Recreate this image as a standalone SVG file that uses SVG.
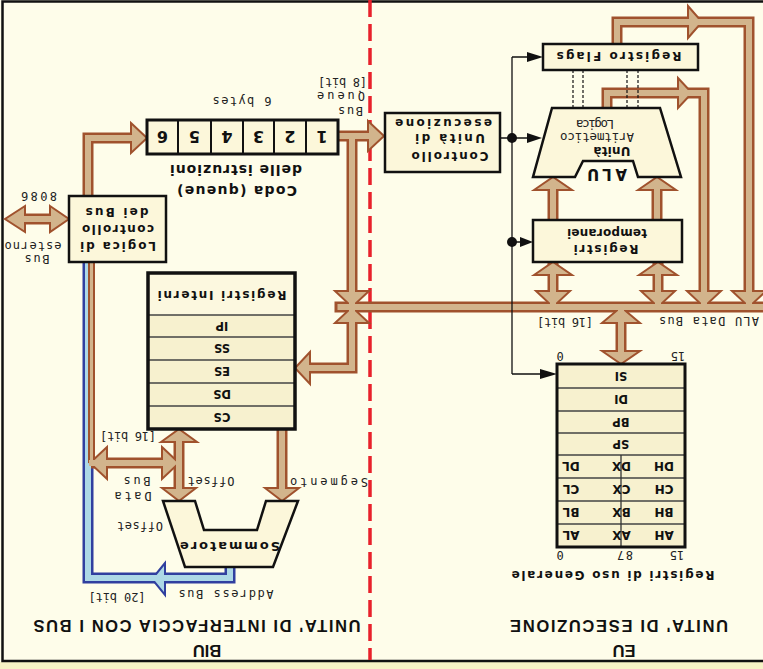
<svg xmlns="http://www.w3.org/2000/svg" width="763" height="669" viewBox="0 0 763 669">
<style>
.t{font-family:"DejaVu Sans Mono","Liberation Mono",monospace;font-size:12px;fill:#222;text-anchor:middle}
.b{font-family:"DejaVu Sans",sans-serif;font-weight:bold;font-size:12px;fill:#111;text-anchor:middle}
.h{font-family:"Liberation Sans",Arial,sans-serif;font-weight:bold;font-size:16.5px;fill:#111;text-anchor:middle}
.box{fill:#fcf7da;stroke:#111;stroke-width:2.5}
.row{fill:#f7f1cf}
.div{stroke:#444;stroke-width:1.5}
.bo{fill:none;stroke:#a0522d;stroke-width:11;stroke-linejoin:miter}
.bi{fill:none;stroke:#d2b48c;stroke-width:6;stroke-linejoin:miter}
.hd{fill:#d2b48c;stroke:#a0522d;stroke-width:2}
.lo{fill:none;stroke:#303f9f;stroke-width:11}
.li{fill:none;stroke:#add8e6;stroke-width:6}
.ln{fill:none;stroke:#111;stroke-width:1.3}
.ah{fill:#111}
.dash{stroke:#111;stroke-width:1.2;stroke-dasharray:3 2}
</style>
<rect x="0" y="0" width="763" height="669" fill="#fefdea"/>
<rect x="0" y="662" width="763" height="7" fill="#f7f3c6"/>
<path d="M763,1.5 H2.5 V661 H763" fill="none" stroke="#111" stroke-width="2.5"/>
<line x1="370" y1="0" x2="370" y2="660" stroke="#e8212b" stroke-width="3.5" stroke-dasharray="17 7"/>

<g id="connectors">
  <path class="lo" d="M230,567 V578 H88 V262"/>
  <polygon fill="#add8e6" stroke="#303f9f" stroke-width="2" points="165,563 152,579 165,595"/>
  <path class="li" d="M230,566 V578 H88 V262"/>
  <path class="bo" d="M88,196 V138 H133"/>
  <path class="bo" d="M22,219 H53"/>
  <path class="bo" d="M338,136 H370"/>
  <path class="bo" d="M352,136 V368 H308"/>
  <path class="bo" d="M334.5,307 H770"/>
  <path class="bo" d="M91.5,262 V463" style="stroke-width:7"/>
  <path class="bo" d="M91,463 H164"/>
  <path class="bo" d="M179,440 V490"/>
  <path class="bo" d="M282,429 V490"/>
  <path class="bo" d="M617,44 V22 H749 V300"/>
  <path class="bo" d="M607,108 V93 H704 V300"/>
  <path class="bo" d="M553,220 V188 M657,220 V188"/>
  <path class="bo" d="M553,262 V300 M658,262 V300"/>
  <path class="bo" d="M621,307 V353"/>
  <polygon class="hd" points="131,123 147,138 131,153"/>
  <polygon class="hd" points="25,206 5,219 25,232"/>
  <polygon class="hd" points="50,206 69,219 50,232"/>
  <polygon class="hd" points="368,121 384,136 368,151"/>
  <polygon class="hd" points="310,352 295,368 310,384"/>
  <polygon class="hd" points="335,291 369,291 352,307"/>
  <polygon class="hd" points="335,323 369,323 352,307"/>
  <polygon class="hd" points="107,447 90,463 107,479"/>
  <polygon class="hd" points="162,447 179,463 162,479"/>
  <polygon class="hd" points="161,442 179,429 197,442"/>
  <polygon class="hd" points="162,488 179,501 196,488"/>
  <polygon class="hd" points="265,488 282,501 299,488"/>
  <polygon class="hd" points="688,6 702,22 688,38"/>
  <polygon class="hd" points="678,78 692,93 678,108"/>
  <polygon class="hd" points="732,291 766,291 749,307"/>
  <polygon class="hd" points="687,291 721,291 704,307"/>
  <polygon class="hd" points="534,190 553,177 572,190"/>
  <polygon class="hd" points="638,190 657,177 676,190"/>
  <polygon class="hd" points="534,275 553,262 572,275"/>
  <polygon class="hd" points="639,275 658,262 677,275"/>
  <polygon class="hd" points="536,291 570,291 553,307"/>
  <polygon class="hd" points="641,291 675,291 658,307"/>
  <polygon class="hd" points="602,323 640,323 621,307"/>
  <polygon class="hd" points="602,351 621,364 640,351"/>
  <path class="bi" d="M88,196 V138 H133"/>
  <path class="bi" d="M20,219 H54"/>
  <path class="bi" d="M338,136 H370"/>
  <path class="bi" d="M352,136 V368 H309"/>
  <path class="bi" d="M337.5,307 H770"/>
  <path class="bi" d="M91.5,262 V463" style="stroke-width:3"/>
  <path class="bi" d="M89,463 H164"/>
  <path class="bi" d="M179,440 V490"/>
  <path class="bi" d="M282,430 V490"/>
  <path class="bi" d="M617,45 V22 H749 V307"/>
  <path class="bi" d="M607,109 V93 H704 V307"/>
  <path class="bi" d="M553,219 V188 M657,219 V188"/>
  <path class="bi" d="M553,273 V307 M658,273 V307"/>
  <path class="bi" d="M621,307 V353"/>
  <path class="ln" d="M500,138 H512 M512,57 V374 M512,57 H530 M512,138 H530 M512,242 H522 M512,374 H542"/>
  <circle cx="512" cy="138" r="5" fill="#111"/>
  <circle cx="512" cy="242" r="5" fill="#111"/>
  <polygon class="ah" points="527,52 543,57 527,62"/>
  <polygon class="ah" points="527,133 542,138 527,143"/>
  <polygon class="ah" points="520,237 533,242 520,247"/>
  <polygon class="ah" points="540,369 557,374 540,379"/>
  <line class="dash" x1="573" y1="70" x2="573" y2="108"/>
  <line class="dash" x1="583" y1="70" x2="583" y2="108"/>
  <line class="dash" x1="627" y1="70" x2="627" y2="108"/>
  <line class="dash" x1="638" y1="70" x2="638" y2="108"/>
</g>

<g id="logica-bus">
  <rect class="box" x="69" y="196" width="97" height="66"/>
  <text class="b" x="117" y="216.3" transform="rotate(180 117 212)" textLength="63">dei Bus</text>
  <text class="b" x="118" y="233.3" transform="rotate(180 118 229)" textLength="72">controllo</text>
  <text class="b" x="118" y="250.3" transform="rotate(180 118 246)" textLength="76">Logica di</text>
</g>

<g id="bus-esterno">
  <text class="t" x="39" y="200.3" transform="rotate(180 39 196)" textLength="36">8086</text>
  <text class="t" x="33" y="248.5" transform="rotate(180 33 245)" textLength="57">esterno</text>
  <text class="t" x="37" y="263.3" transform="rotate(180 37 259)" textLength="25">Bus</text>
</g>

<g id="coda">
  <rect x="147" y="120" width="191" height="34" fill="#fcf7da" stroke="#111" stroke-width="3"/>
  <path d="M178,120 V154 M211,120 V154 M243,120 V154 M274,120 V154 M306,120 V154" stroke="#111" stroke-width="2"/>
  <g class="b" style="font-size:16px">
    <text x="322" y="143" transform="rotate(180 322 137)">1</text>
    <text x="290" y="143" transform="rotate(180 290 137)">2</text>
    <text x="258.5" y="143" transform="rotate(180 258.5 137)">3</text>
    <text x="227" y="143" transform="rotate(180 227 137)">4</text>
    <text x="194.5" y="143" transform="rotate(180 194.5 137)">5</text>
    <text x="162.5" y="143" transform="rotate(180 162.5 137)">6</text>
  </g>
  <text class="t" x="242" y="105.3" transform="rotate(180 242 101)" textLength="59">6 bytes</text>
  <text class="b" style="font-size:14px" x="236" y="175" transform="rotate(180 236 170)" textLength="132">delle istruzioni</text>
  <text class="b" style="font-size:14px" x="237" y="196" transform="rotate(180 237 191)" textLength="120">Coda (queue)</text>
  <text class="t" x="342.5" y="86.3" transform="rotate(180 342.5 82)" textLength="49">[8 bit]</text>
  <text class="t" x="341" y="100.3" transform="rotate(180 341 96)" textLength="48">Queue</text>
  <text class="t" x="350.5" y="115.3" transform="rotate(180 350.5 111)" textLength="25">Bus</text>
</g>

<g id="registri-interni">
  <rect x="148" y="273" width="147" height="156" fill="#fcf8df"/>
  <rect class="row" x="148" y="315" width="147" height="114"/>
  <path class="div" d="M148,315 H295 M148,337 H295 M148,360 H295 M148,383 H295 M148,406 H295"/>
  <rect x="148" y="273" width="147" height="156" fill="none" stroke="#111" stroke-width="3.5"/>
  <text class="b" x="222" y="299.3" transform="rotate(180 222 295)" textLength="129">Registri Interni</text>
  <g class="b" style="font-size:11.5px">
    <text x="222" y="330.2" transform="rotate(180 222 326)">IP</text>
    <text x="222" y="352.7" transform="rotate(180 222 348.5)">SS</text>
    <text x="222" y="375.7" transform="rotate(180 222 371.5)">ES</text>
    <text x="222" y="398.7" transform="rotate(180 222 394.5)">DS</text>
    <text x="222" y="421.7" transform="rotate(180 222 417.5)">CS</text>
  </g>
</g>

<g id="sommatore">
  <polygon points="163,501 195,501 204,530 257,530 266,501 298,501 273,567 185,567" fill="#fcf7da" stroke="#111" stroke-width="2.5"/>
  <text class="b" style="font-size:13px" x="230" y="551.7" transform="rotate(180 230 547)" textLength="100">Sommatore</text>
  <text class="t" x="128" y="440.3" transform="rotate(180 128 436)" textLength="56">[16 bit]</text>
  <text class="t" x="211" y="485.3" transform="rotate(180 211 481)" textLength="47">Offset</text>
  <text class="t" x="137" y="485.3" transform="rotate(180 137 481)" textLength="27">Bus</text>
  <text class="t" x="133" y="500.3" transform="rotate(180 133 496)" textLength="37">Data</text>
  <text class="t" x="140" y="530.3" transform="rotate(180 140 526)" textLength="46">Offset</text>
  <text class="t" x="329" y="486.3" transform="rotate(180 329 482)" textLength="78">Segmento</text>
  <text class="t" x="226" y="598.3" transform="rotate(180 226 594)" textLength="95">Address Bus</text>
  <text class="t" x="117" y="601.3" transform="rotate(180 117 597)" textLength="57">[20 bit]</text>
</g>

<g id="biu-title">
  <text class="h" x="197" y="632" transform="rotate(180 197 626)" textLength="327">UNITA' DI INTERFACCIA CON I BUS</text>
  <text class="h" x="207" y="657" transform="rotate(180 207 651)">BIU</text>
</g>

<g id="controllo">
  <rect class="box" x="385" y="113" width="115" height="59"/>
  <text class="b" x="443.5" y="126" transform="rotate(180 443.5 122.5)" textLength="97">esecuzione</text>
  <text class="b" x="450" y="142.3" transform="rotate(180 450 138)" textLength="70">Unità di</text>
  <text class="b" x="450" y="160.3" transform="rotate(180 450 156)" textLength="77">Controllo</text>
</g>

<g id="flags">
  <rect class="box" x="543" y="44" width="155" height="26"/>
  <text class="b" x="619" y="60.3" transform="rotate(180 619 56)" textLength="125">Registro  Flags</text>
</g>

<g id="alu">
  <polygon points="552,108 660,108 681,177 638,177 633,161 583,161 575,177 533,177" fill="#fcf7da" stroke="#111" stroke-width="2.5"/>
  <text class="t" style="font-size:12.5px" x="595" y="126.5" transform="rotate(180 595 123)" textLength="38">Logica</text>
  <text class="t" style="font-size:12.5px" x="597" y="141.5" transform="rotate(180 597 137)" textLength="74">Aritmetico</text>
  <text class="b" x="612" y="155.3" transform="rotate(180 612 151)" textLength="37">Unità</text>
  <text class="b" style="font-size:15px" x="607" y="179.4" transform="rotate(180 607 174)" textLength="40">ALU</text>
</g>

<g id="registri-temporanei">
  <rect class="box" x="533" y="220" width="149" height="42"/>
  <text class="b" x="607" y="235.5" transform="rotate(180 607 232)" textLength="80">temporanei</text>
  <text class="b" x="606" y="253.3" transform="rotate(180 606 249)" textLength="65">Registri</text>
</g>

<g id="eu-bus-labels">
  <text class="t" x="565" y="326.3" transform="rotate(180 565 322)" textLength="56">[16 bit]</text>
  <text class="t" x="709" y="325.3" transform="rotate(180 709 321)" textLength="100">ALU Data Bus</text>
</g>

<g id="registri-generali">
  <rect class="row" x="557" y="364" width="128" height="183"/>
  <path class="div" d="M557,388 H685 M557,411 H685 M557,433 H685 M557,455 H685 M557,478 H685 M557,501 H685 M557,524 H685"/>
  <line x1="621" y1="455" x2="621" y2="547" stroke="#333" stroke-width="1.3"/>
  <rect x="557" y="364" width="128" height="183" fill="none" stroke="#111" stroke-width="3"/>
  <g class="b" style="font-size:11.5px">
    <text x="621" y="380.2" transform="rotate(180 621 376)">SI</text>
    <text x="621" y="403.7" transform="rotate(180 621 399.5)">DI</text>
    <text x="621" y="426.2" transform="rotate(180 621 422)">BP</text>
    <text x="621" y="448.2" transform="rotate(180 621 444)">SP</text>
  </g>
  <g class="b" style="font-size:12px">
    <text x="664" y="470.3" transform="rotate(180 664 466)">DH</text>
    <text x="621.5" y="470.3" transform="rotate(180 621.5 466)">DX</text>
    <text x="571" y="470.3" transform="rotate(180 571 466)">DL</text>
    <text x="664" y="493.3" transform="rotate(180 664 489)">CH</text>
    <text x="621.5" y="493.3" transform="rotate(180 621.5 489)">CX</text>
    <text x="571" y="493.3" transform="rotate(180 571 489)">CL</text>
    <text x="664" y="516.3" transform="rotate(180 664 512)">BH</text>
    <text x="621.5" y="516.3" transform="rotate(180 621.5 512)">BX</text>
    <text x="571" y="516.3" transform="rotate(180 571 512)">BL</text>
    <text x="664" y="539.3" transform="rotate(180 664 535)">AH</text>
    <text x="621.5" y="539.3" transform="rotate(180 621.5 535)">AX</text>
    <text x="571" y="539.3" transform="rotate(180 571 535)">AL</text>
  </g>
  <text class="t" x="560" y="360.3" transform="rotate(180 560 356)">0</text>
  <text class="t" x="678" y="360.3" transform="rotate(180 678 356)">15</text>
  <text class="t" x="677" y="559.3" transform="rotate(180 677 555)">15</text>
  <text class="t" x="625" y="559.3" transform="rotate(180 625 555)" textLength="16">8 7</text>
  <text class="t" x="560" y="559.3" transform="rotate(180 560 555)">0</text>
  <text class="b" x="613" y="579.3" transform="rotate(180 613 575)" textLength="203">Registri di uso Generale</text>
</g>

<g id="eu-title">
  <text class="h" x="619" y="632" transform="rotate(180 619 626)" textLength="218">UNITA' DI ESECUZIONE</text>
  <text class="h" x="624" y="657" transform="rotate(180 624 651)">EU</text>
</g>
</svg>
